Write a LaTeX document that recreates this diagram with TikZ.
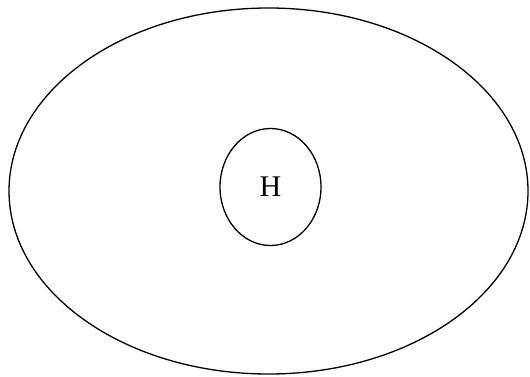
\documentclass[tikz,border=0pt]{standalone}
\usepackage{fontspec}
\setmainfont{Liberation Serif}
\usetikzlibrary{shapes.geometric}

\begin{document}
\begin{tikzpicture}[x=1pt,y=-1pt,
  setshape/.style={ellipse,draw,line width=1.3pt,inner sep=0pt}]
\useasboundingbox (0,0) rectangle (530,376);
\node[setshape,minimum width=519pt,minimum height=366pt] (univ) at (268.5,191) {};
\node[setshape,minimum width=101pt,minimum height=117pt,font=\fontsize{30}{36}\selectfont] (hset) at (270.5,187) {H};
\end{tikzpicture}
\end{document}
